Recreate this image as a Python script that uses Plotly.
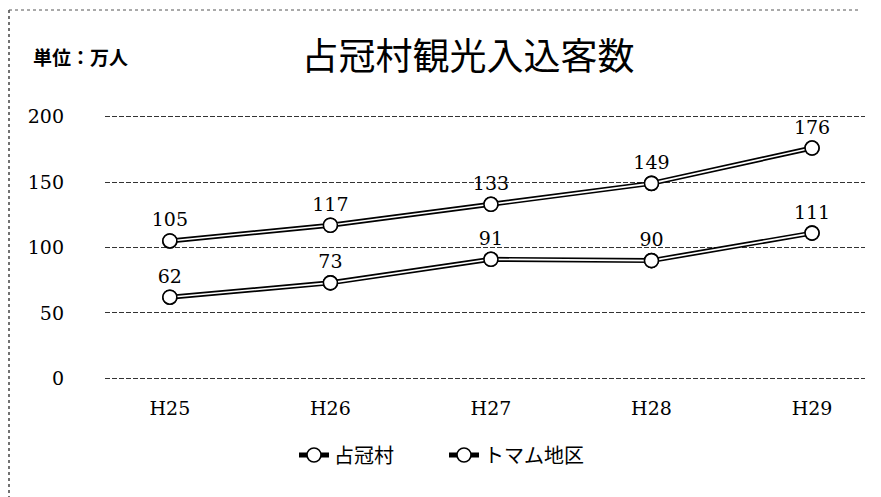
import plotly.graph_objects as go

categories = ["H25", "H26", "H27", "H28", "H29"]
shimukappu = [105, 117, 133, 149, 176]
tomamu = [62, 73, 91, 90, 111]
series_names = ["占冠村", "トマム地区"]
y_ticks = [0, 50, 100, 150, 200]

SERIF = "DejaVu Serif, Liberation Serif, serif"
CJK = "Noto Sans CJK JP, sans-serif"

fig = go.Figure()

for name, vals in zip(series_names, [shimukappu, tomamu]):
    fig.add_trace(go.Scatter(
        x=categories, y=vals, name=name, mode="lines+markers",
        line=dict(color="black", width=5),
        marker=dict(size=14, color="white", line=dict(color="black", width=1.6)),
        showlegend=True, hoverinfo="skip"))
    fig.add_trace(go.Scatter(
        x=categories, y=vals, mode="lines",
        line=dict(color="white", width=1.6),
        showlegend=False, hoverinfo="skip"))
    fig.add_trace(go.Scatter(
        x=categories, y=vals, mode="markers+text",
        text=[str(v) for v in vals], textposition="top center",
        textfont=dict(family=SERIF, size=19, color="black"),
        marker=dict(size=14, color="white", line=dict(color="black", width=1.6)),
        showlegend=False, hoverinfo="skip", cliponaxis=False))

# page has an 8px body margin; figure coords = screen coords - 8
O = 8
W, H = 881, 497
PL, PR, PT, PB = 105 - O, 865 - O, 114 - O, 381 - O
PW, PH = PR - PL, PB - PT

def px_x(p):
    return (p - PL) / PW

def px_y(p):
    return (PB - p) / PH

fig.update_layout(
    width=W, height=H,
    margin=dict(l=PL, r=W - PR, t=PT, b=H - PB, autoexpand=False),
    paper_bgcolor="white", plot_bgcolor="white",
    title=dict(text="占冠村観光入込客数", x=(468 - O) / W, xanchor="center",
               y=1 - (57 - O) / H, yanchor="middle",
               font=dict(family=CJK, size=37, color="black")),
    showlegend=True,
    legend=dict(orientation="h", xref="container", yref="container",
                x=(294 - O) / W, xanchor="left", y=1 - (455 - O) / H, yanchor="middle",
                font=dict(family=CJK, size=20, color="black"),
                entrywidth=105, bgcolor="rgba(0,0,0,0)"),
    annotations=[dict(text="<b>単位：万人</b>", xref="paper", yref="paper",
                      x=px_x(31 - O), y=px_y(57 - O), xanchor="left", yanchor="middle",
                      showarrow=False,
                      font=dict(family=CJK, size=19, color="black"))],
    shapes=[
        dict(type="line", xref="paper", yref="paper", x0=px_x(1), x1=px_x(1),
             y0=px_y(H), y1=px_y(2),
             line=dict(color="#444", width=1.5, dash="dot")),
        dict(type="line", xref="paper", yref="paper", x0=px_x(1), x1=px_x(850),
             y0=px_y(2), y1=px_y(2),
             line=dict(color="#555", width=1, dash="dot")),
    ],
)

fig.update_xaxes(type="category", range=[-0.404, 4.33], showgrid=False, showline=False,
                 zeroline=False, ticks="", ticklabelstandoff=14, automargin=False,
                 tickfont=dict(family=SERIF, size=19, color="black"))
fig.update_yaxes(range=[-2, 202], tickvals=y_ticks, showgrid=True, gridcolor="#333",
                 gridwidth=1, griddash="5px,2px", zeroline=False, showline=False, ticks="",
                 ticklabelstandoff=40, automargin=False,
                 tickfont=dict(family=SERIF, size=19, color="black"))

fig.write_html("out.html")
